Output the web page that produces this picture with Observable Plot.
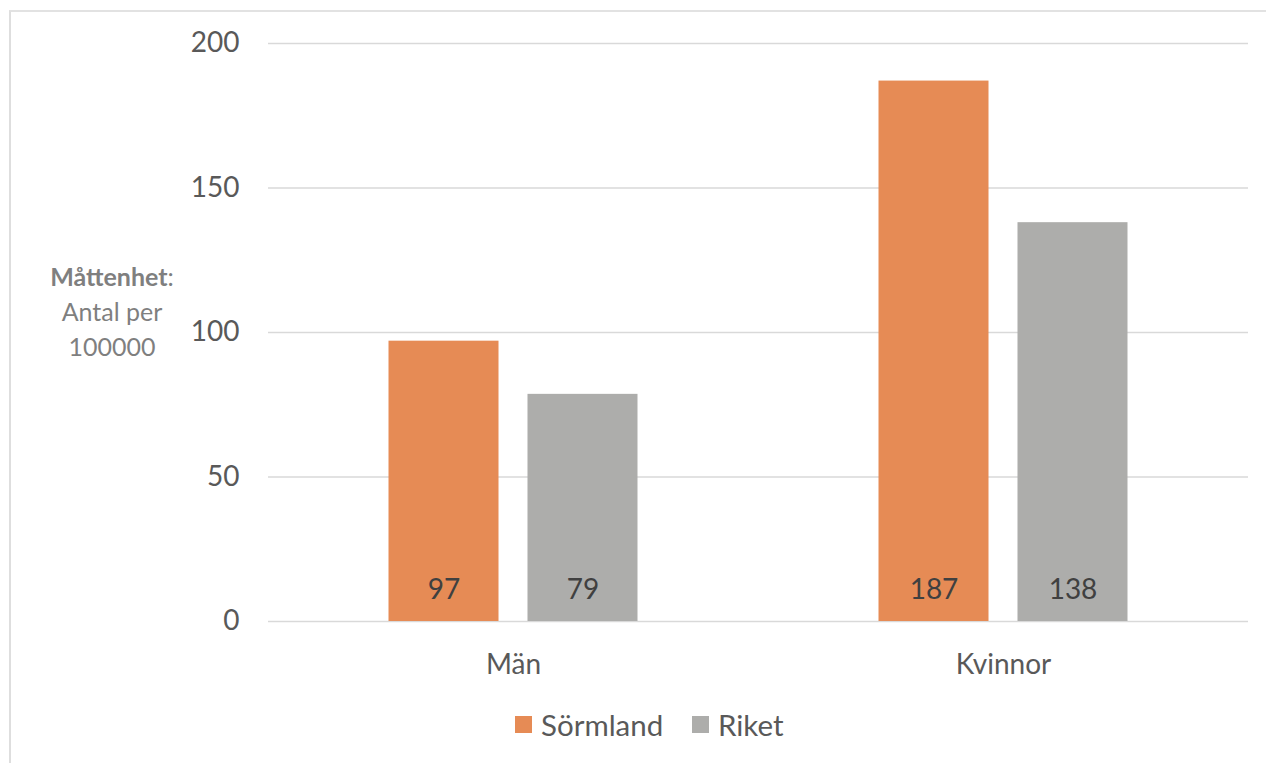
<!DOCTYPE html>
<html>
<head>
<meta charset="utf-8">
<script src="https://cdn.jsdelivr.net/npm/d3@7"></script>
<script src="https://cdn.jsdelivr.net/npm/@observablehq/plot@0.6"></script>
<style>
  html, body { margin: 0; padding: 0; background: #fff; }
  #wrap { position: relative; width: 1266px; height: 763px; overflow: hidden; font-family: Lato, "Open Sans", sans-serif; }
  #frame { position: absolute; left: 9px; top: 10px; width: 1400px; height: 900px; border-left: 2px solid #dedede; border-top: 2px solid #e2e2e2; }
  #chart { position: absolute; left: 0; top: 0; }
  #ylab { position: absolute; left: 32px; top: 259px; width: 160px; text-align: center; font-size: 25px; line-height: 35px; color: #7f7f7f; }
  .sw { position: absolute; width: 17px; height: 17px; }
  .lt { position: absolute; font-size: 29.5px; color: #595959; line-height: 29px; }
</style>
</head>
<body>
<div id="wrap">
  <div id="frame"></div>
  <div id="chart"></div>
  <div id="ylab"><b>Måttenhet</b>:<br>Antal per<br>100000</div>
  <div id="legend"></div>
</div>
<script>
const categories = ["Män", "Kvinnor"];
const series = ["Sörmland", "Riket"];
const sormlandValues = [97, 187];
const riketValues = [78.6, 138];
const yTicks = [0, 50, 100, 150, 200];
const colors = ["#e68b55", "#adadab"];

const data = [];
categories.forEach((c, i) => {
  data.push({cat: c, series: series[0], value: sormlandValues[i]});
  data.push({cat: c, series: series[1], value: riketValues[i]});
});

const chart = Plot.plot({
  width: 1266,
  height: 700,
  marginTop: 43,
  marginBottom: 79,
  marginLeft: 268,
  marginRight: 18,
  style: {fontFamily: "Lato, 'Open Sans', sans-serif", fontSize: "28px", color: "#595959", background: "transparent"},
  fx: {domain: categories, padding: 0, label: null, tickSize: 0, tickPadding: 33},
  x: {domain: series, paddingInner: 0.2086, paddingOuter: 0.867, round: false, axis: null},
  y: {domain: [0, 200], ticks: yTicks, label: null, tickSize: 0, tickPadding: 29},
  color: {domain: series, range: colors},
  marks: [
    Plot.ruleY(yTicks, {stroke: "#d9d9d9", strokeWidth: 1.4}),
    Plot.barY(data, {fx: "cat", x: "series", y: "value", fill: "series"}),
    Plot.text(data, {fx: "cat", x: "series", y: 0, text: d => Math.round(d.value), dy: -31, fontSize: 28, fill: "#404040"})
  ]
});
document.getElementById("chart").appendChild(chart);

// legend
const legend = document.getElementById("legend");
const legendPos = [[515, 541], [692, 718]];
series.forEach((s, i) => {
  const sw = document.createElement("div");
  sw.className = "sw";
  sw.style.left = legendPos[i][0] + "px";
  sw.style.top = "716px";
  sw.style.background = colors[i];
  legend.appendChild(sw);
  const t = document.createElement("div");
  t.className = "lt";
  t.style.left = legendPos[i][1] + "px";
  t.style.top = "710px";
  t.textContent = s;
  legend.appendChild(t);
});
</script>
</body>
</html>
